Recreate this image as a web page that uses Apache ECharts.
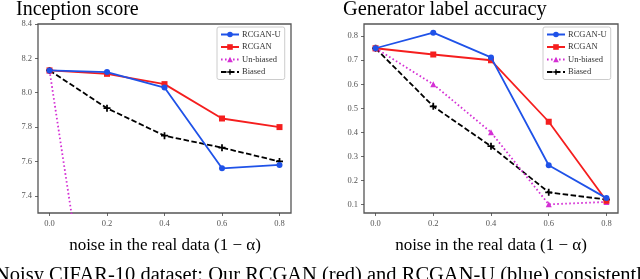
<!DOCTYPE html>
<html>
<head>
<meta charset="utf-8">
<script src="https://cdn.jsdelivr.net/npm/echarts@6/dist/echarts.min.js"></script>
<style>html,body{margin:0;padding:0;background:#fff;overflow:hidden}#c{width:640px;height:279px}</style>
</head>
<body>
<div id="c"></div>
<script>
const noise = [0.0, 0.2, 0.4, 0.6, 0.8];
const xTicks = [0.0, 0.2, 0.4, 0.6, 0.8];
const isTicks = [7.4, 7.6, 7.8, 8.0, 8.2, 8.4];
const accTicks = [0.1, 0.2, 0.3, 0.4, 0.5, 0.6, 0.7, 0.8];

// Inception score
const isRcganU = [8.13, 8.12, 8.03, 7.56, 7.58];
const isRcgan = [8.13, 8.11, 8.05, 7.85, 7.80];
const isUnbiased = [8.13, 5.95, null, null, null];
const isBiased = [8.13, 7.91, 7.75, 7.68, 7.60];

// Generator label accuracy
const accRcganU = [0.75, 0.815, 0.712, 0.263, 0.126];
const accRcgan = [0.75, 0.724, 0.70, 0.444, 0.115];
const accUnbiased = [0.75, 0.60, 0.40, 0.10, 0.11];
const accBiased = [0.75, 0.508, 0.342, 0.15, 0.12];

const names = ['RCGAN-U', 'RCGAN', 'Un-biased', 'Biased'];
const colors = ['#1f52e8', '#f51e1e', '#d42fd4', '#000000'];
const plusPath = 'path://M3,0H5V3H8V5H5V8H3V5H0V3H3Z';
const symbols = ['circle', 'rect', 'triangle', plusPath];
const symSizes = [6, 6, 6, 7];
const lineTypes = ['solid', 'solid', [1.6, 2.4], [5.5, 2.5]];

const serif = '"Liberation Serif", "DejaVu Serif", serif';

function pairs(vals) { return noise.map((x, i) => [x, vals[i]]); }

function mkSeries(idx, arrs) {
  return arrs.map((vals, k) => ({
    name: names[k], type: 'line', xAxisIndex: idx, yAxisIndex: idx,
    data: pairs(vals), symbol: symbols[k], symbolSize: symSizes[k],
    showSymbol: true, connectNulls: false, clip: true,
    itemStyle: { color: colors[k] },
    lineStyle: { color: colors[k], width: 1.8, type: lineTypes[k] },
    z: 10 - k, animation: false
  }));
}

const axisCommon = {
  axisLine: { show: false, onZero: false },
  splitLine: { show: false },
  axisTick: { show: true, inside: false, length: 3, lineStyle: { color: '#444', width: 0.8 } },
  axisLabel: { color: '#555', fontFamily: serif, fontSize: 8.5 }
};

function xAx(gi) {
  return Object.assign({}, axisCommon, {
    type: 'value', gridIndex: gi, min: -0.04, max: 0.84,
    axisTick: Object.assign({}, axisCommon.axisTick, { customValues: xTicks }),
    axisLabel: Object.assign({}, axisCommon.axisLabel, { customValues: xTicks, margin: 6,
      formatter: v => v.toFixed(1) })
  });
}
function yAx(gi, min, max, ticks) {
  return Object.assign({}, axisCommon, {
    type: 'value', gridIndex: gi, min: min, max: max,
    axisTick: Object.assign({}, axisCommon.axisTick, { customValues: ticks }),
    axisLabel: Object.assign({}, axisCommon.axisLabel, { customValues: ticks, margin: 6,
      formatter: v => v.toFixed(1) })
  });
}

function legend(left) {
  return {
    data: names, orient: 'vertical', left: left, top: 27,
    width: 70, itemWidth: 18, itemHeight: 7, itemGap: 3.5,
    padding: [3, 4, 3, 3], borderColor: '#ccc', borderWidth: 1, borderRadius: 2,
    backgroundColor: '#fff',
    textStyle: { fontFamily: serif, fontSize: 8.5, color: '#333', padding: [0, 0, 0, -2] },
    selectedMode: false
  };
}

const chart = echarts.init(document.getElementById('c'), null, { renderer: 'canvas' });
chart.setOption({
  animation: false,
  backgroundColor: '#fff',
  grid: [
    { left: 38, top: 24, width: 253, height: 189, show: true, borderColor: '#555', borderWidth: 1.3, backgroundColor: 'transparent' },
    { left: 364, top: 24, width: 254, height: 189, show: true, borderColor: '#555', borderWidth: 1.3, backgroundColor: 'transparent' }
  ],
  xAxis: [xAx(0), xAx(1)],
  yAxis: [yAx(0, 7.3, 8.4, isTicks), yAx(1, 0.064, 0.851, accTicks)],
  legend: [legend(217), legend(543)],
  series: mkSeries(0, [isRcganU, isRcgan, isUnbiased, isBiased])
    .concat(mkSeries(1, [accRcganU, accRcgan, accUnbiased, accBiased])),
  graphic: [
    { type: 'text', left: 16, top: 0, style: { text: 'Inception score', font: '20px ' + serif, fill: '#000' } },
    { type: 'text', left: 343, top: 0, style: { text: 'Generator label accuracy', font: '20.4px ' + serif, fill: '#000' } },
    { type: 'text', x: 165, y: 246, style: { text: 'noise in the real data (1 − α)', font: '17px ' + serif, fill: '#000', align: 'center', verticalAlign: 'middle' } },
    { type: 'text', x: 491, y: 246, style: { text: 'noise in the real data (1 − α)', font: '17px ' + serif, fill: '#000', align: 'center', verticalAlign: 'middle' } },
    { type: 'text', x: -5, y: 265, style: { text: 'Noisy CIFAR-10 dataset: Our RCGAN (red) and RCGAN-U (blue) consistently', font: '20.5px ' + serif, fill: '#000' } }
  ]
});
</script>
</body>
</html>
